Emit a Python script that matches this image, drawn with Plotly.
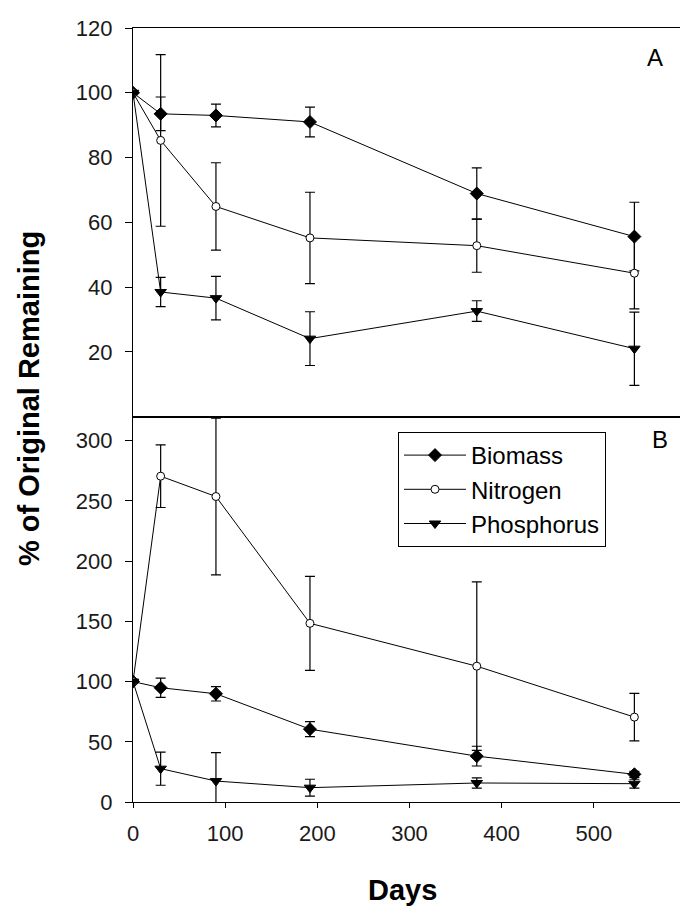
import plotly.graph_objects as go

days = [0, 30, 90, 192, 373, 544]

# Panel A
biomass_a = [100, 93.5, 93.0, 91.0, 68.9, 55.6]
biomass_a_err = [None, 5.2, 3.5, 4.6, 7.9, 10.6]
nitrogen_a = [100, 85.3, 64.9, 55.2, 52.8, 44.3]
nitrogen_a_err = [None, 26.5, 13.5, 14.1, 8.2, 11.0]
phos_a = [100, 38.5, 36.6, 24.1, 32.6, 21.0]
phos_a_err = [None, 4.5, 6.7, 8.3, 3.2, 11.3]

# Panel B
biomass_b = [100, 94.9, 89.9, 60.5, 38.1, 23.0]
biomass_b_err = [None, 8.0, 6.0, 6.2, 8.2, 2.5]
nitrogen_b = [100, 270.6, 253.7, 148.4, 112.8, 70.5]
nitrogen_b_err = [None, 26.0, 65.0, 39.0, 70.0, 19.7]
phos_b = [100, 27.7, 17.4, 11.9, 15.8, 15.2]
phos_b_err = [None, 13.8, 23.6, 7.0, 4.2, 3.7]

x_ticks = [0, 100, 200, 300, 400, 500]
ya_ticks = [20, 40, 60, 80, 100, 120]
yb_ticks = [0, 50, 100, 150, 200, 250, 300]

FONT = "Arial, Liberation Sans, sans-serif"
BLACK = "#000000"

styles = {
    "Biomass": dict(symbol="diamond", size=10, color=BLACK, line=dict(color=BLACK, width=1)),
    "Nitrogen": dict(symbol="circle", size=8, color="white", line=dict(color=BLACK, width=1)),
    "Phosphorus": dict(symbol="triangle-down", size=10, color=BLACK, line=dict(color=BLACK, width=1)),
}

fig = go.Figure()

def add(name, y, err, xa, ya, show):
    fig.add_trace(go.Scatter(
        x=days, y=y, name=name, mode="lines+markers",
        line=dict(color=BLACK, width=1),
        marker=styles[name],
        error_y=dict(type="data", array=err, visible=True, color=BLACK, thickness=1.2, width=5),
        xaxis=xa, yaxis=ya, showlegend=show,
    ))

add("Biomass", biomass_a, biomass_a_err, "x2", "y2", False)
add("Nitrogen", nitrogen_a, nitrogen_a_err, "x2", "y2", False)
add("Phosphorus", phos_a, phos_a_err, "x2", "y2", False)
add("Biomass", biomass_b, biomass_b_err, "x", "y", True)
add("Nitrogen", nitrogen_b, nitrogen_b_err, "x", "y", True)
add("Phosphorus", phos_b, phos_b_err, "x", "y", True)

split = (802 - 416.7) / 774
tickfont = dict(family=FONT, size=22, color="#1a1a1a")

def px_x(p):
    return (p - 133) / 547

def px_y(p):
    return (802 - p) / 774

fig.update_layout(
    width=681, height=906,
    margin=dict(l=133, r=1, t=28, b=104),
    paper_bgcolor="white", plot_bgcolor="white",
    font=dict(family=FONT, color=BLACK),
    xaxis=dict(domain=[0, 1], anchor="y", range=[0, 593.5], tickvals=x_ticks,
               showgrid=False, zeroline=False, showline=True, linecolor=BLACK, linewidth=1.3,
               mirror=True, ticks="outside", ticklen=5, tickcolor=BLACK, tickfont=tickfont,
               ticklabelstandoff=6),
    xaxis2=dict(domain=[0, 1], anchor="y2", matches="x", range=[0, 593.5], showticklabels=False,
                showgrid=False, zeroline=False, showline=True, linecolor=BLACK, linewidth=1.3,
                mirror=True, ticks=""),
    yaxis=dict(domain=[0, split], anchor="x", range=[0, 320], tickvals=yb_ticks,
               showgrid=False, zeroline=False, showline=True, linecolor=BLACK, linewidth=1.3,
               ticks="outside", ticklen=7, tickcolor=BLACK, tickfont=tickfont, ticklabelstandoff=8),
    yaxis2=dict(domain=[split, 1], anchor="x2", range=[0, 120], tickvals=ya_ticks,
                showgrid=False, zeroline=False, showline=True, linecolor=BLACK, linewidth=1.3,
                ticks="outside", ticklen=7, tickcolor=BLACK, tickfont=tickfont, ticklabelstandoff=8),
    legend=dict(x=px_x(398), y=px_y(432), xanchor="left", yanchor="top",
                bgcolor="white", bordercolor=BLACK, borderwidth=1,
                font=dict(family=FONT, size=24, color=BLACK), itemwidth=62,
                tracegroupgap=0),
    annotations=[
        dict(text="A", x=px_x(655), y=px_y(58), xref="paper", yref="paper",
             xanchor="center", yanchor="middle",
             showarrow=False, font=dict(family=FONT, size=24, color=BLACK)),
        dict(text="B", x=px_x(660), y=px_y(439), xref="paper", yref="paper",
             xanchor="center", yanchor="middle",
             showarrow=False, font=dict(family=FONT, size=24, color=BLACK)),
        dict(text="<b>Days</b>", x=px_x(402.5), y=px_y(890), xref="paper", yref="paper",
             xanchor="center", yanchor="middle",
             showarrow=False, font=dict(family=FONT, size=29, color=BLACK)),
        dict(text="<b>% of Original Remaining</b>", x=px_x(29), y=px_y(399),
             xref="paper", yref="paper", textangle=-90, showarrow=False,
             xanchor="center", yanchor="middle",
             font=dict(family=FONT, size=29, color=BLACK)),
    ],
)

fig.write_html("out.html")
